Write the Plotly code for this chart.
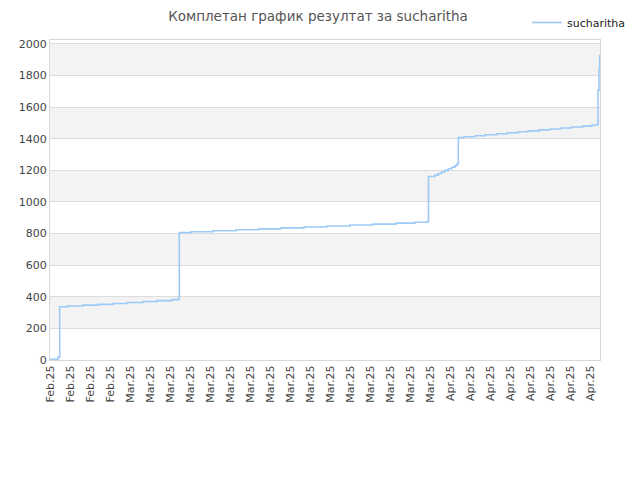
import plotly.graph_objects as go

# step points (x in tick-slot units, y = result)
day = [0, 0.4, 0.485, 0.9, 1.65, 2.4, 3.15, 3.85, 4.65, 5.35, 6.1, 6.425,
       6.465, 7.05, 8.15, 9.3, 10.45, 11.55, 12.7, 13.85, 15.0, 16.15, 17.3, 18.25, 18.875,
       18.925, 19.25, 19.415, 19.585, 19.75, 19.915, 20.085, 20.25, 20.35,
       20.415, 20.7, 21.25, 21.765, 22.335, 22.865, 23.415, 23.9, 24.465, 25.0,
       25.55, 26.085, 26.635, 27.1, 27.385, 27.4, 27.45, 27.485]
score = [5, 18, 337, 342, 347, 352, 358, 364, 370, 376, 382, 388,
         806, 812, 818, 824, 830, 836, 842, 848, 854, 860, 866, 872, 876,
         1161, 1170, 1180, 1190, 1200, 1210, 1220, 1230, 1240,
         1407, 1413, 1419, 1425, 1432, 1438, 1444, 1450, 1456, 1462,
         1468, 1474, 1480, 1487, 1493, 1706, 1837, 1932]

tick_labels = ["Feb.25"] * 4 + ["Mar.25"] * 16 + ["Apr.25"] * 8
y_ticks = list(range(0, 2001, 200))

fig = go.Figure()
fig.add_trace(go.Scatter(x=day, y=score, mode="lines", line_shape="hv",
                         name="sucharitha",
                         line=dict(color="#9ccaf5", width=1.6)))

# alternating grey bands
for lo in y_ticks[1::2]:
    fig.add_shape(type="rect", xref="paper", yref="y", x0=0, x1=1, y0=lo, y1=lo + 200,
                  fillcolor="#f3f3f3", line_width=0, layer="below")

# page body adds an 8px offset, so margins are shifted to compensate
fig.update_layout(
    width=640, height=480,
    margin=dict(l=42, r=48, t=32, b=128, autoexpand=False),
    paper_bgcolor="white", plot_bgcolor="white",
    font=dict(family="DejaVu Sans", size=11, color="#444"),
    title=dict(text="Комплетан график резултат за sucharitha", x=310 / 640, xanchor="center",
               y=1 - 4 / 480, yanchor="top", yref="container",
               font=dict(size=13.5, color="#555")),
    showlegend=True,
    legend=dict(xref="container", yref="container", x=519 / 640, y=1,
                xanchor="left", yanchor="top",
                bgcolor="rgba(0,0,0,0)", font=dict(size=11, color="#222")),
    xaxis=dict(range=[0, 27.5], tickmode="array", tickvals=list(range(28)),
               ticktext=tick_labels, tickangle=-90, showgrid=False, zeroline=False,
               showline=True, linecolor="#d8d8d8", mirror=True, ticks="", automargin=False),
    yaxis=dict(range=[0, 2025], tickvals=y_ticks, showgrid=True, gridcolor="#dcdcdc",
               zeroline=False, showline=True, linecolor="#d8d8d8", mirror=True, ticks="",
               automargin=False),
)

fig.write_html("out.html")
